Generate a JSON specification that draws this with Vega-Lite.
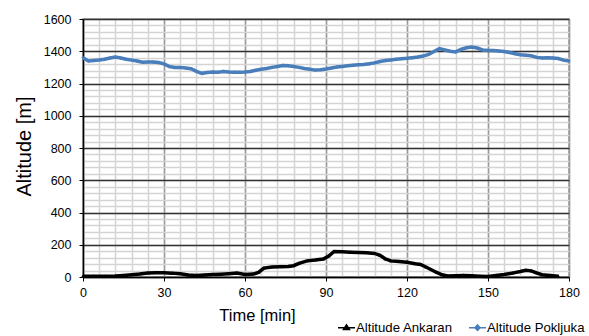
{
  "$schema": "https://vega.github.io/schema/vega-lite/v6.json",
  "width": 486,
  "height": 258,
  "autosize": {"type": "none"},
  "padding": {"left": 83, "top": 19, "right": 20, "bottom": 59},
  "background": "white",
  "config": {
    "font": "Liberation Sans",
    "view": {"stroke": "#888888", "strokeWidth": 1.5},
    "axis": {"labelFont": "Liberation Sans", "titleFont": "Liberation Sans", "labelColor": "#000", "titleColor": "#000", "titleFontWeight": "normal", "labelFlush": false, "format": "d"}
  },
  "data": {"values": [
    {"t":0,"s":"Altitude Pokljuka","a":1360},{"t":2,"s":"Altitude Pokljuka","a":1340},{"t":4,"s":"Altitude Pokljuka","a":1343},{"t":6,"s":"Altitude Pokljuka","a":1346},{"t":8,"s":"Altitude Pokljuka","a":1350},{"t":10,"s":"Altitude Pokljuka","a":1358},{"t":12,"s":"Altitude Pokljuka","a":1364},{"t":14,"s":"Altitude Pokljuka","a":1358},{"t":16,"s":"Altitude Pokljuka","a":1350},{"t":18,"s":"Altitude Pokljuka","a":1345},{"t":20,"s":"Altitude Pokljuka","a":1340},{"t":22,"s":"Altitude Pokljuka","a":1332},{"t":24,"s":"Altitude Pokljuka","a":1333},{"t":26,"s":"Altitude Pokljuka","a":1333},{"t":28,"s":"Altitude Pokljuka","a":1330},{"t":30,"s":"Altitude Pokljuka","a":1322},{"t":32,"s":"Altitude Pokljuka","a":1305},{"t":34,"s":"Altitude Pokljuka","a":1300},{"t":36,"s":"Altitude Pokljuka","a":1300},{"t":38,"s":"Altitude Pokljuka","a":1296},{"t":40,"s":"Altitude Pokljuka","a":1292},{"t":42,"s":"Altitude Pokljuka","a":1275},{"t":44,"s":"Altitude Pokljuka","a":1263},{"t":46,"s":"Altitude Pokljuka","a":1268},{"t":48,"s":"Altitude Pokljuka","a":1271},{"t":50,"s":"Altitude Pokljuka","a":1270},{"t":52,"s":"Altitude Pokljuka","a":1275},{"t":54,"s":"Altitude Pokljuka","a":1272},{"t":56,"s":"Altitude Pokljuka","a":1270},{"t":58,"s":"Altitude Pokljuka","a":1270},{"t":60,"s":"Altitude Pokljuka","a":1271},{"t":62,"s":"Altitude Pokljuka","a":1275},{"t":64,"s":"Altitude Pokljuka","a":1282},{"t":66,"s":"Altitude Pokljuka","a":1288},{"t":68,"s":"Altitude Pokljuka","a":1293},{"t":70,"s":"Altitude Pokljuka","a":1300},{"t":72,"s":"Altitude Pokljuka","a":1306},{"t":74,"s":"Altitude Pokljuka","a":1312},{"t":76,"s":"Altitude Pokljuka","a":1310},{"t":78,"s":"Altitude Pokljuka","a":1306},{"t":80,"s":"Altitude Pokljuka","a":1300},{"t":82,"s":"Altitude Pokljuka","a":1293},{"t":84,"s":"Altitude Pokljuka","a":1288},{"t":86,"s":"Altitude Pokljuka","a":1283},{"t":88,"s":"Altitude Pokljuka","a":1285},{"t":90,"s":"Altitude Pokljuka","a":1290},{"t":92,"s":"Altitude Pokljuka","a":1296},{"t":94,"s":"Altitude Pokljuka","a":1302},{"t":96,"s":"Altitude Pokljuka","a":1306},{"t":98,"s":"Altitude Pokljuka","a":1310},{"t":100,"s":"Altitude Pokljuka","a":1313},{"t":102,"s":"Altitude Pokljuka","a":1316},{"t":104,"s":"Altitude Pokljuka","a":1318},{"t":106,"s":"Altitude Pokljuka","a":1322},{"t":108,"s":"Altitude Pokljuka","a":1328},{"t":110,"s":"Altitude Pokljuka","a":1336},{"t":112,"s":"Altitude Pokljuka","a":1342},{"t":114,"s":"Altitude Pokljuka","a":1346},{"t":116,"s":"Altitude Pokljuka","a":1350},{"t":118,"s":"Altitude Pokljuka","a":1354},{"t":120,"s":"Altitude Pokljuka","a":1356},{"t":122,"s":"Altitude Pokljuka","a":1360},{"t":124,"s":"Altitude Pokljuka","a":1364},{"t":126,"s":"Altitude Pokljuka","a":1370},{"t":128,"s":"Altitude Pokljuka","a":1380},{"t":130,"s":"Altitude Pokljuka","a":1398},{"t":132,"s":"Altitude Pokljuka","a":1416},{"t":134,"s":"Altitude Pokljuka","a":1408},{"t":136,"s":"Altitude Pokljuka","a":1400},{"t":138,"s":"Altitude Pokljuka","a":1396},{"t":140,"s":"Altitude Pokljuka","a":1412},{"t":142,"s":"Altitude Pokljuka","a":1422},{"t":144,"s":"Altitude Pokljuka","a":1426},{"t":146,"s":"Altitude Pokljuka","a":1420},{"t":148,"s":"Altitude Pokljuka","a":1408},{"t":150,"s":"Altitude Pokljuka","a":1405},{"t":152,"s":"Altitude Pokljuka","a":1404},{"t":154,"s":"Altitude Pokljuka","a":1402},{"t":156,"s":"Altitude Pokljuka","a":1398},{"t":158,"s":"Altitude Pokljuka","a":1392},{"t":160,"s":"Altitude Pokljuka","a":1385},{"t":162,"s":"Altitude Pokljuka","a":1378},{"t":164,"s":"Altitude Pokljuka","a":1375},{"t":166,"s":"Altitude Pokljuka","a":1372},{"t":168,"s":"Altitude Pokljuka","a":1362},{"t":170,"s":"Altitude Pokljuka","a":1358},{"t":172,"s":"Altitude Pokljuka","a":1360},{"t":174,"s":"Altitude Pokljuka","a":1358},{"t":176,"s":"Altitude Pokljuka","a":1355},{"t":178,"s":"Altitude Pokljuka","a":1345},{"t":180,"s":"Altitude Pokljuka","a":1340},
    {"t":0,"s":"Altitude Ankaran","a":5},{"t":4,"s":"Altitude Ankaran","a":5},{"t":8,"s":"Altitude Ankaran","a":4},{"t":12,"s":"Altitude Ankaran","a":6},{"t":15,"s":"Altitude Ankaran","a":10},{"t":18,"s":"Altitude Ankaran","a":14},{"t":21,"s":"Altitude Ankaran","a":18},{"t":24,"s":"Altitude Ankaran","a":25},{"t":27,"s":"Altitude Ankaran","a":27},{"t":30,"s":"Altitude Ankaran","a":26},{"t":33,"s":"Altitude Ankaran","a":24},{"t":36,"s":"Altitude Ankaran","a":20},{"t":39,"s":"Altitude Ankaran","a":12},{"t":42,"s":"Altitude Ankaran","a":10},{"t":45,"s":"Altitude Ankaran","a":12},{"t":48,"s":"Altitude Ankaran","a":15},{"t":51,"s":"Altitude Ankaran","a":17},{"t":54,"s":"Altitude Ankaran","a":20},{"t":57,"s":"Altitude Ankaran","a":24},{"t":60,"s":"Altitude Ankaran","a":15},{"t":63,"s":"Altitude Ankaran","a":18},{"t":65,"s":"Altitude Ankaran","a":28},{"t":67,"s":"Altitude Ankaran","a":55},{"t":70,"s":"Altitude Ankaran","a":62},{"t":73,"s":"Altitude Ankaran","a":64},{"t":76,"s":"Altitude Ankaran","a":65},{"t":78,"s":"Altitude Ankaran","a":70},{"t":80,"s":"Altitude Ankaran","a":85},{"t":83,"s":"Altitude Ankaran","a":100},{"t":86,"s":"Altitude Ankaran","a":105},{"t":89,"s":"Altitude Ankaran","a":112},{"t":91,"s":"Altitude Ankaran","a":130},{"t":93,"s":"Altitude Ankaran","a":158},{"t":96,"s":"Altitude Ankaran","a":157},{"t":99,"s":"Altitude Ankaran","a":154},{"t":102,"s":"Altitude Ankaran","a":152},{"t":105,"s":"Altitude Ankaran","a":150},{"t":108,"s":"Altitude Ankaran","a":146},{"t":110,"s":"Altitude Ankaran","a":135},{"t":112,"s":"Altitude Ankaran","a":112},{"t":114,"s":"Altitude Ankaran","a":100},{"t":117,"s":"Altitude Ankaran","a":96},{"t":120,"s":"Altitude Ankaran","a":92},{"t":123,"s":"Altitude Ankaran","a":82},{"t":125,"s":"Altitude Ankaran","a":78},{"t":127,"s":"Altitude Ankaran","a":62},{"t":129,"s":"Altitude Ankaran","a":45},{"t":131,"s":"Altitude Ankaran","a":28},{"t":133,"s":"Altitude Ankaran","a":14},{"t":135,"s":"Altitude Ankaran","a":6},{"t":138,"s":"Altitude Ankaran","a":8},{"t":141,"s":"Altitude Ankaran","a":10},{"t":144,"s":"Altitude Ankaran","a":8},{"t":147,"s":"Altitude Ankaran","a":5},{"t":150,"s":"Altitude Ankaran","a":3},{"t":153,"s":"Altitude Ankaran","a":10},{"t":156,"s":"Altitude Ankaran","a":15},{"t":159,"s":"Altitude Ankaran","a":24},{"t":162,"s":"Altitude Ankaran","a":34},{"t":164,"s":"Altitude Ankaran","a":42},{"t":166,"s":"Altitude Ankaran","a":38},{"t":168,"s":"Altitude Ankaran","a":25},{"t":170,"s":"Altitude Ankaran","a":14},{"t":173,"s":"Altitude Ankaran","a":10},{"t":176,"s":"Altitude Ankaran","a":5}
  ]},
  "resolve": {"axis": {"x": "independent", "y": "independent"}},
  "layer": [
    {
      "mark": {"type": "line", "opacity": 0},
      "encoding": {
        "x": {"field": "t", "type": "quantitative", "scale": {"domain": [0, 180], "nice": false},
          "axis": {"orient": "bottom", "values": [0,6,12,18,24,30,36,42,48,54,60,66,72,78,84,90,96,102,108,114,120,126,132,138,144,150,156,162,168,174,180], "labels": false, "ticks": false, "domain": false, "title": null, "grid": true, "gridColor": "#d4d4d4", "gridWidth": 1.5}},
        "y": {"field": "a", "type": "quantitative", "scale": {"domain": [0, 1600], "nice": false},
          "axis": {"orient": "left", "values": [0,40,80,120,160,200,240,280,320,360,400,440,480,520,560,600,640,680,720,760,800,840,880,920,960,1000,1040,1080,1120,1160,1200,1240,1280,1320,1360,1400,1440,1480,1520,1560,1600], "labels": false, "ticks": false, "domain": false, "title": null, "grid": true, "gridColor": "#d4d4d4", "gridWidth": 1.5}}
      }
    },
    {
      "mark": {"type": "line", "opacity": 0},
      "encoding": {
        "x": {"field": "t", "type": "quantitative",
          "axis": {"orient": "bottom", "values": [0,30,60,90,120,150,180], "labelFontSize": 12.5, "labelPadding": 5, "tickSize": 4, "tickColor": "#000", "domainColor": "#000", "domainWidth": 1.5, "grid": true, "gridColor": "#999999", "gridWidth": 1.5,
            "title": "Time [min]", "titleFontSize": 16.5, "titleX": 174, "titleY": 30, "titleAnchor": "middle", "titleAlign": "center"}},
        "y": {"field": "a", "type": "quantitative",
          "axis": {"orient": "left", "values": [0,200,400,600,800,1000,1200,1400,1600], "labelFontSize": 12.5, "labelPadding": 8, "tickSize": 4, "tickColor": "#000", "domainColor": "#000", "domainWidth": 1.5, "grid": true, "gridColor": "#333333", "gridWidth": 1.5,
            "title": "Altitude [m]", "titleFontSize": 20, "titleX": -59, "titleY": 127, "titleAngle": -90, "titleAlign": "center", "titleBaseline": "middle"}}
      }
    },
    {
      "mark": {"type": "line", "strokeWidth": 3.5},
      "encoding": {
        "x": {"field": "t", "type": "quantitative", "axis": null},
        "y": {"field": "a", "type": "quantitative", "axis": null},
        "color": {"field": "s", "type": "nominal", "scale": {"domain": ["Altitude Ankaran", "Altitude Pokljuka"], "range": ["#000000", "#4a7ebb"]}}
      }
    },
    {
      "mark": {"type": "point", "filled": true, "opacity": 1, "size": 130},
      "encoding": {
        "x": {"field": "t", "type": "quantitative", "axis": null},
        "y": {"field": "a", "type": "quantitative", "axis": null},
        "color": {"field": "s", "type": "nominal",
          "legend": {"title": null, "orient": "none", "legendX": 254, "legendY": 299, "padding": 0, "direction": "horizontal", "labelFontSize": 13.2, "labelColor": "#000", "columnPadding": 13, "symbolSize": 289, "labelOffset": 0,
            "encode": {"symbols": {"update": {"stroke": {"scale": "color", "field": "value"}, "strokeWidth": {"value": 1.5}}}}}},
        "shape": {"field": "s", "type": "nominal", "scale": {"domain": ["Altitude Ankaran", "Altitude Pokljuka"], "range": ["M-1,0H1M-0.35,0.22L0,-0.32L0.35,0.22Z", "M-1,0H1M0,-0.32L0.3,0L0,0.32L-0.3,0Z"]},
          "legend": {"title": null, "orient": "none", "legendX": 254, "legendY": 299, "padding": 0, "direction": "horizontal", "labelFontSize": 13.2, "labelColor": "#000", "columnPadding": 13, "symbolSize": 289, "labelOffset": 0,
            "encode": {"symbols": {"update": {"stroke": {"scale": "color", "field": "value"}, "strokeWidth": {"value": 1.5}}}}}}
      }
    }
  ]
}
